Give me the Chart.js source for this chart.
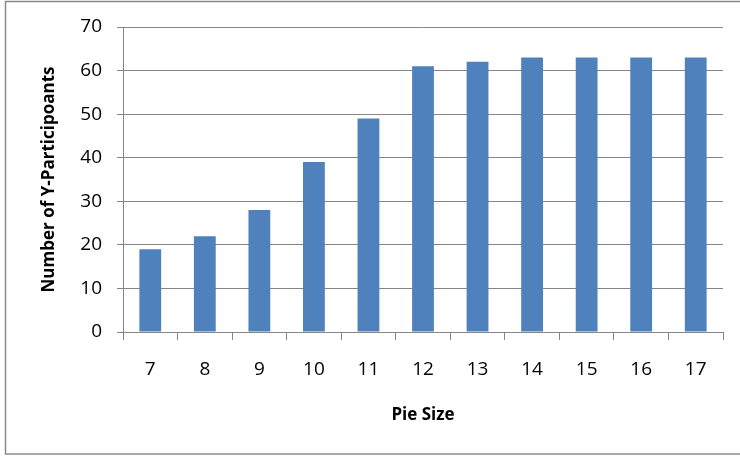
<!DOCTYPE html>
<html>
<head>
<meta charset="utf-8">
<script src="https://cdn.jsdelivr.net/npm/chart.js@4"></script>
<style>
  html, body { margin: 0; padding: 0; background: #ffffff; }
  #wrap { position: relative; width: 740px; height: 456px; }
</style>
</head>
<body>
<div id="wrap"><canvas id="c" width="740" height="456"></canvas></div>
<script>
const categories = ['7', '8', '9', '10', '11', '12', '13', '14', '15', '16', '17'];
const participants = [19, 22, 28, 39, 49, 61, 62, 63, 63, 63, 63];
const yTicks = [0, 10, 20, 30, 40, 50, 60, 70];
const xTitle = 'Pie Size';
const yTitle = 'Number of Y-Participoants';

const FONT = "'Open Sans', 'Liberation Sans', sans-serif";
const GRID = '#868686';

const frame = {
  id: 'frame',
  afterDraw(chart) {
    const ctx = chart.ctx;
    ctx.save();
    ctx.strokeStyle = '#8a8a8a';
    ctx.lineWidth = 1.5;
    ctx.beginPath();
    ctx.moveTo(745, 1.5);
    ctx.lineTo(5.5, 1.5);
    ctx.lineTo(5.5, 454);
    ctx.lineTo(745, 454);
    ctx.stroke();
    ctx.restore();
  }
};

new Chart(document.getElementById('c'), {
  type: 'bar',
  data: {
    labels: categories,
    datasets: [{
      data: participants,
      backgroundColor: '#4F81BD',
      borderWidth: 0,
      categoryPercentage: 1.0,
      barPercentage: 0.4
    }]
  },
  options: {
    responsive: false,
    animation: false,
    devicePixelRatio: 1,
    layout: { padding: { left: 0, top: 27, right: 17, bottom: 0 } },
    plugins: { legend: { display: false }, tooltip: { enabled: false } },
    scales: {
      x: {
        offset: true,
        grid: { display: true, drawOnChartArea: false, drawTicks: true, tickLength: 8, color: GRID, lineWidth: 1, offset: true },
        border: { display: true, color: GRID, width: 1 },
        ticks: { color: '#000000', font: { family: FONT, size: 19 }, padding: 18, maxRotation: 0 },
        title: { display: true, text: xTitle, color: '#000000', font: { family: FONT, size: 17, weight: 'bold' }, padding: { top: 0, bottom: 31 } },
        afterFit(scale) { scale.height = 124; }
      },
      y: {
        min: 0,
        max: 70,
        afterBuildTicks(scale) { scale.ticks = yTicks.map(v => ({ value: v })); },
        grid: { display: true, drawTicks: true, tickLength: 6, color: GRID, lineWidth: 1 },
        border: { display: true, color: GRID, width: 1 },
        ticks: { color: '#000000', font: { family: FONT, size: 19 }, padding: 15 },
        title: { display: true, text: yTitle, color: '#000000', font: { family: FONT, size: 17, weight: 'bold' }, padding: { top: 39, bottom: 0 } },
        afterFit(scale) { scale.width = 123; }
      }
    }
  },
  plugins: [frame]
});
</script>
</body>
</html>
